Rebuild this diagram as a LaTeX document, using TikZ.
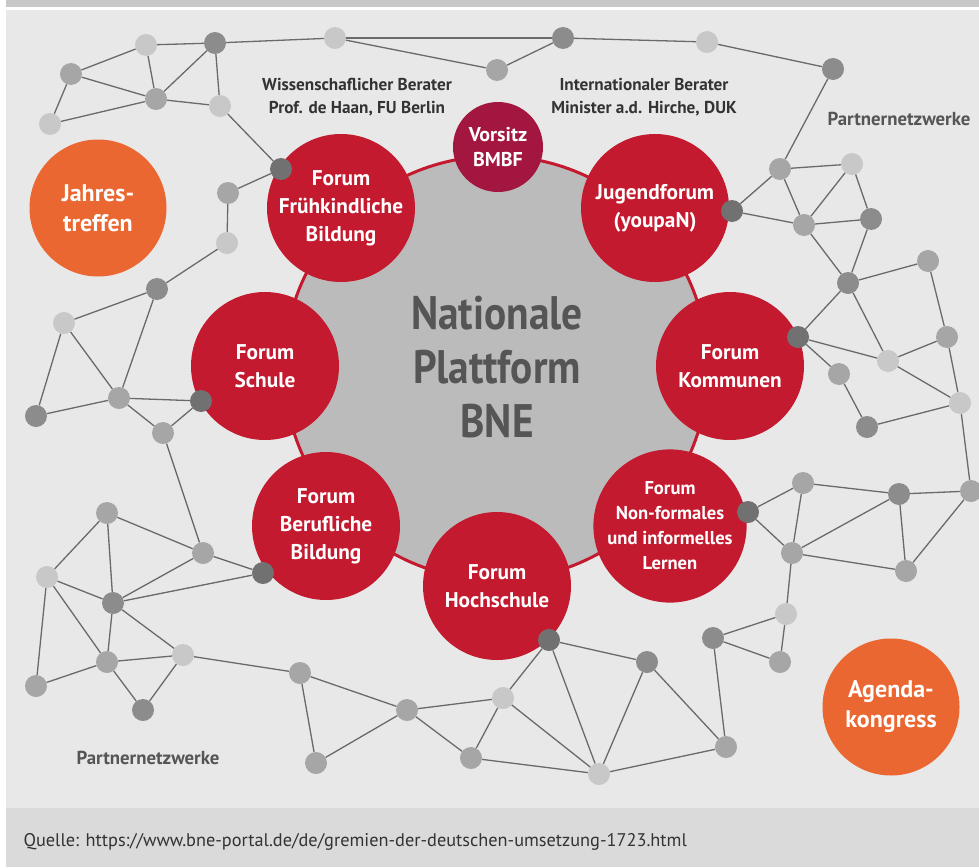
\documentclass[tikz,border=0pt]{standalone}
\usepackage{fontspec}
\setmainfont{PT Sans}
\newfontfamily\titlefont{PT Sans}[FakeStretch=0.88]
\definecolor{bgc}{HTML}{E8E8E8}
\definecolor{topbar}{HTML}{C8C8C8}
\definecolor{footc}{HTML}{DADADA}
\definecolor{centc}{HTML}{BBBBBB}
\definecolor{fred}{HTML}{C41A2F}
\definecolor{vred}{HTML}{A2163F}
\definecolor{orng}{HTML}{EB6731}
\definecolor{cl}{HTML}{C8C8C8}
\definecolor{cm}{HTML}{A6A6A6}
\definecolor{cd}{HTML}{8C8C8C}
\definecolor{cx}{HTML}{717171}
\definecolor{edgec}{HTML}{6A6A6A}
\definecolor{txtd}{HTML}{333333}
\definecolor{txtg}{HTML}{555555}
\tikzset{
  dot/.style={circle,inner sep=0pt,minimum size=22pt},
  nl/.style={dot,fill=cl},
  nm/.style={dot,fill=cm},
  nd/.style={dot,fill=cd},
  nx/.style={dot,fill=cx},
  link/.style={draw=edgec,line width=1.3pt},
  forum/.style={circle,fill=fred,inner sep=0pt,minimum size=148pt,text=white,align=center,font=\bfseries\fontsize{21.3}{28}\selectfont},
  small/.style={forum,font=\bfseries\fontsize{18.6}{25}\selectfont},
  chair/.style={circle,fill=vred,inner sep=0pt,minimum size=90pt,text=white,align=center,font=\bfseries\fontsize{20}{25}\selectfont},
  event/.style={circle,fill=orng,inner sep=0pt,minimum size=137pt,text=white,align=center,font=\bfseries\fontsize{24}{30}\selectfont},
  advisor/.style={text=txtd,align=center,font=\bfseries\fontsize{17.2}{23}\selectfont},
  netlabel/.style={text=txtg,font=\bfseries\fontsize{18.8}{22}\selectfont},
}
\begin{document}
\begin{tikzpicture}[x=1pt,y=-1pt]
\useasboundingbox (0,0) rectangle (979,867);
\fill[white] (0,0) rectangle (979,867);
\fill[topbar] (6,0) rectangle (979,7);
\fill[bgc] (6,10) rectangle (979,808);
\fill[footc] (6,808) rectangle (979,867);
% central platform
\node[circle,fill=centc,draw=fred,line width=3pt,minimum size=424pt,inner sep=0pt] (plat) at (496,368) {};
\node[text=txtg,align=center,font=\titlefont\bfseries\fontsize{47}{54}\selectfont] (platt) at (497,367) {Nationale\\Plattform\\BNE};
% forums
\node[forum] (fk) at (341,208) {Forum\\Frühkindliche\\Bildung};
\node[chair] (vs) at (498,147) {Vorsitz\\BMBF};
\node[forum] (jf) at (655,208) {Jugendforum\\(youpaN)};
\node[forum] (sc) at (265,366) {Forum\\Schule};
\node[forum] (ko) at (730,366) {Forum\\Kommunen};
\node[forum] (bb) at (326,526) {Forum\\Berufliche\\Bildung};
\node[small] (nf) at (670,526) {Forum\\Non-formales\\und informelles\\Lernen};
\node[forum] (hs) at (497,586) {Forum\\Hochschule};
\node[event] (jt) at (98,208) {Jahres-\\treffen};
\node[event] (ak) at (891,707) {Agenda-\\kongress};
% advisors and labels
\node[advisor] (wb) at (357,97) {Wissenschaflicher Berater\\Prof. de Haan, FU Berlin};
\node[advisor] (ib) at (644,97) {Internationaler Berater\\Minister a.d. Hirche, DUK};
\node[netlabel] (pn1) at (899,119) {Partnernetzwerke};
\node[netlabel] (pn2) at (148,758) {Partnernetzwerke};
\node[anchor=west,text=txtd,font=\fontsize{18.3}{22}\selectfont] (src) at (20,842) {Quelle: https://www.bne-portal.de/de/gremien-der-deutschen-umsetzung-1723.html};
% network nodes: top left
\node[nl] (A1) at (146,45) {};
\node[nd] (A2) at (215,43) {};
\node[nl] (A3) at (335,38) {};
\node[nm] (A4) at (71,74) {};
\node[nm] (A5) at (156,99) {};
\node[nl] (A6) at (220,106) {};
\node[nl] (A7) at (50,124) {};
\node[nx] (A8) at (281,169) {};
\node[nm] (A9) at (228,193) {};
\node[nl] (A10) at (227,243) {};
\node[nd] (A11) at (157,289) {};
% top
\node[nm] (B0) at (497,70) {};
\node[nd] (B1) at (563,38) {};
\node[nl] (B2) at (707,42) {};
\node[nd] (B3) at (833,69) {};
% right top
\node[nm] (C1) at (780,169) {};
\node[nl] (C2) at (852,164) {};
\node[nx] (C3) at (732,211) {};
\node[nm] (C4) at (804,225) {};
\node[nd] (C5) at (871,219) {};
\node[nd] (C6) at (848,283) {};
\node[nm] (C7) at (928,261) {};
\node[nx] (D1) at (798,337) {};
\node[nm] (D2) at (947,337) {};
\node[nl] (D3) at (888,361) {};
\node[nm] (D4) at (839,374) {};
\node[nl] (D5) at (960,403) {};
\node[nd] (D6) at (867,427) {};
% right middle
\node[nx] (E1) at (748,512) {};
\node[nm] (E2) at (803,483) {};
\node[nd] (E3) at (899,494) {};
\node[nm] (E4) at (971,491) {};
\node[nm] (E5) at (792,553) {};
\node[nm] (E6) at (906,571) {};
\node[nl] (E7) at (786,614) {};
\node[nd] (E8) at (713,638) {};
\node[nm] (E9) at (780,662) {};
% bottom middle
\node[nx] (F1) at (549,640) {};
\node[nd] (F2) at (647,662) {};
\node[nl] (F3) at (503,698) {};
\node[nm] (F4) at (407,710) {};
\node[nm] (F5) at (300,673) {};
\node[nm] (F6) at (316,763) {};
\node[nm] (F7) at (471,758) {};
\node[nl] (F8) at (599,774) {};
\node[nm] (F9) at (726,747) {};
% bottom left
\node[nm] (G1) at (107,513) {};
\node[nm] (G2) at (203,553) {};
\node[nx] (G3) at (263,573) {};
\node[nl] (G4) at (47,577) {};
\node[nd] (G5) at (113,603) {};
\node[nm] (G6) at (107,662) {};
\node[nl] (G7) at (183,655) {};
\node[nm] (G8) at (36,686) {};
\node[nd] (G9) at (143,710) {};
% left middle
\node[nl] (H1) at (64,323) {};
\node[nm] (H2) at (119,398) {};
\node[nx] (H3) at (201,401) {};
\node[nd] (H4) at (36,416) {};
\node[nm] (H5) at (163,433) {};
% links
\foreach \a/\b in {A1/A2,A2/A3,A1/A4,A4/A5,A1/A5,A5/A2,A2/A6,A5/A6,A4/A7,A7/A5,A6/A8,A8/A9,A9/A10,A10/A11,
  A3/B0,A3/B1,B0/B1,B1/B2,B2/B3,B3/C1,
  C1/C2,C1/C3,C1/C4,C3/C4,C2/C4,C2/C5,C4/C5,C4/C6,C5/C6,C6/C7,
  C6/D1,C6/D3,C7/D2,D1/D3,D1/D4,D3/D2,D3/D5,D4/D6,D6/D5,D2/D5,D5/E4,
  E1/E2,E1/E5,E2/E5,E2/E3,E3/E4,E5/E3,E5/E6,E3/E6,E4/E6,E5/E7,E7/E8,E7/E9,E8/E9,E8/F9,
  F1/F2,F1/F3,F1/F8,F2/F8,F2/F9,F3/F4,F3/F7,F3/F8,F4/F5,F4/F6,F5/F6,F4/F7,F7/F8,F8/F9,F5/G7,
  G1/G2,G1/G4,G1/G5,G2/G3,G2/G5,G3/G5,G4/G5,G4/G6,G4/G8,G5/G6,G5/G7,G6/G7,G6/G8,G6/G9,G7/G9,
  A11/H1,A11/H2,H1/H2,H1/H4,H4/H2,H2/H3,H2/H5,H5/H3,H5/G2}
  \draw[link] (\a) -- (\b);
\end{tikzpicture}
\end{document}
